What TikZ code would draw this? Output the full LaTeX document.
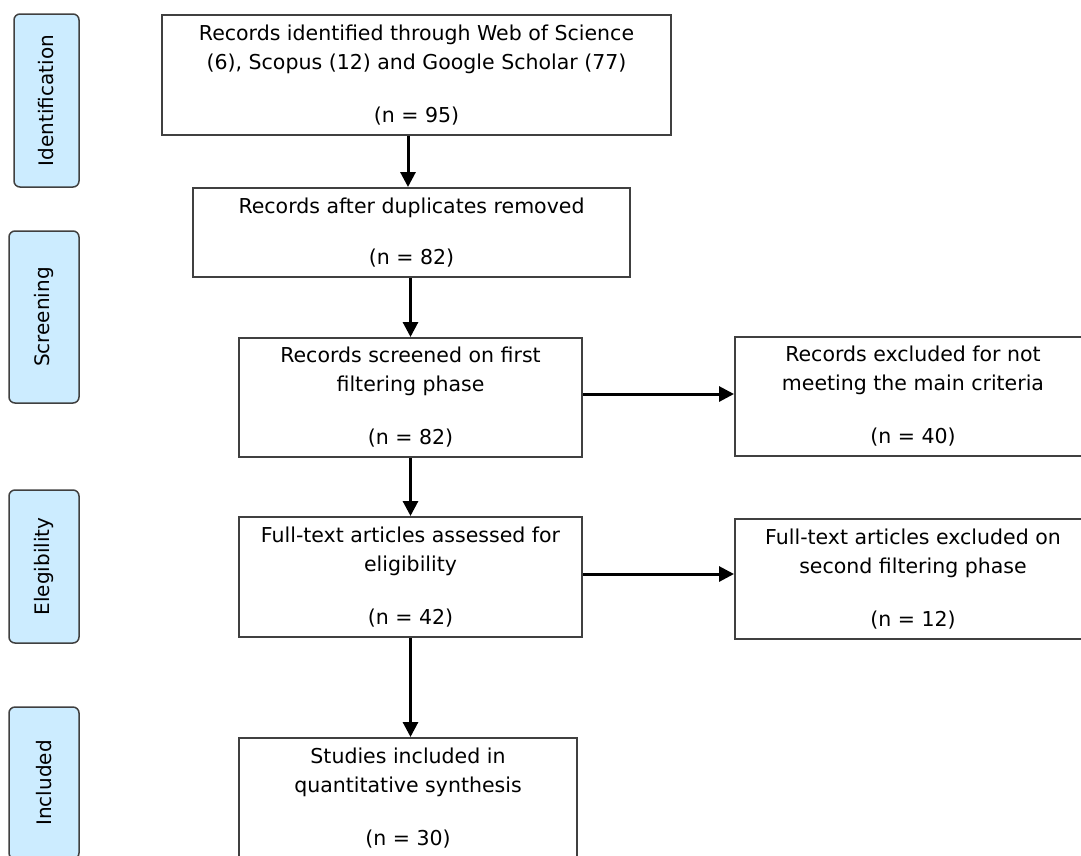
\documentclass[tikz,border=0pt]{standalone}
\usepackage{fontspec}
\setmainfont{DejaVu Sans}
\usetikzlibrary{arrows.meta}
\definecolor{lblue}{RGB}{204,236,255}
\definecolor{bord}{RGB}{64,64,64}
\tikzset{
  flowbox/.style={draw=bord, line width=2pt, inner sep=0pt, align=center,
    font=\fontsize{20.5}{29}\selectfont, text=black},
  phase/.style={draw=bord, fill=lblue, line width=1.5pt, rounded corners=6pt,
    inner sep=0pt, rotate=90, font=\fontsize{20}{24}\selectfont, text=black},
  arr/.style={line width=3pt, -{Triangle[length=15pt,width=15pt]}},
}
\begin{document}
\begin{tikzpicture}[x=1pt,y=-1pt]
\useasboundingbox (0,0) rectangle (1081,855);
\fill[white] (0,0) rectangle (1081,855);

% phase labels
\node[phase, minimum width=173, minimum height=65] (pid) at (46.5,100.5) {Identification};
\node[phase, minimum width=172, minimum height=70] (psc) at (44,317) {Screening};
\node[phase, minimum width=153, minimum height=70] (pel) at (44,566.5) {Elegibility};
\node[phase, minimum width=152, minimum height=70] (pin) at (44,783) {Included};

% flow boxes
\node[flowbox, minimum width=509, minimum height=120] (b1) at (416.5,75)
  {Records identified through Web of Science\\(6), Scopus (12) and Google Scholar (77)\\[24pt](n = 95)};
\node[flowbox, minimum width=437, minimum height=89] (b2) at (411.5,232.5)
  {Records after duplicates removed\\[22pt](n = 82)};
\node[flowbox, minimum width=343, minimum height=119] (b3) at (410.5,397.5)
  {Records screened on first\\filtering phase\\[24pt](n = 82)};
\node[flowbox, minimum width=356, minimum height=119] (b4) at (913,396.5)
  {Records excluded for not\\meeting the main criteria\\[24pt](n = 40)};
\node[flowbox, minimum width=343, minimum height=120] (b5) at (410.5,577)
  {Full-text articles assessed for\\eligibility\\[24pt](n = 42)};
\node[flowbox, minimum width=356, minimum height=120] (b6) at (913,579)
  {Full-text articles excluded on\\second filtering phase\\[24pt](n = 12)};
\node[flowbox, minimum width=338, minimum height=120] (b7) at (408,798)
  {Studies included in\\quantitative synthesis\\[24pt](n = 30)};

% connectors
\draw[arr] ([xshift=-8.5pt]b1.south) -- ([xshift=-8.5pt]b1.south |- b2.north);
\draw[arr] (b2.south -| b3.north) -- (b3.north);
\draw[arr] (b3.south) -- (b5.north);
\draw[arr] (b5.south) -- (b5.south |- b7.north);
\draw[arr] ([yshift=3.5pt]b3.east) -- ([yshift=3.5pt]b3.east -| b4.west);
\draw[arr] ([yshift=3pt]b5.east) -- ([yshift=3pt]b5.east -| b6.west);
\end{tikzpicture}
\end{document}
